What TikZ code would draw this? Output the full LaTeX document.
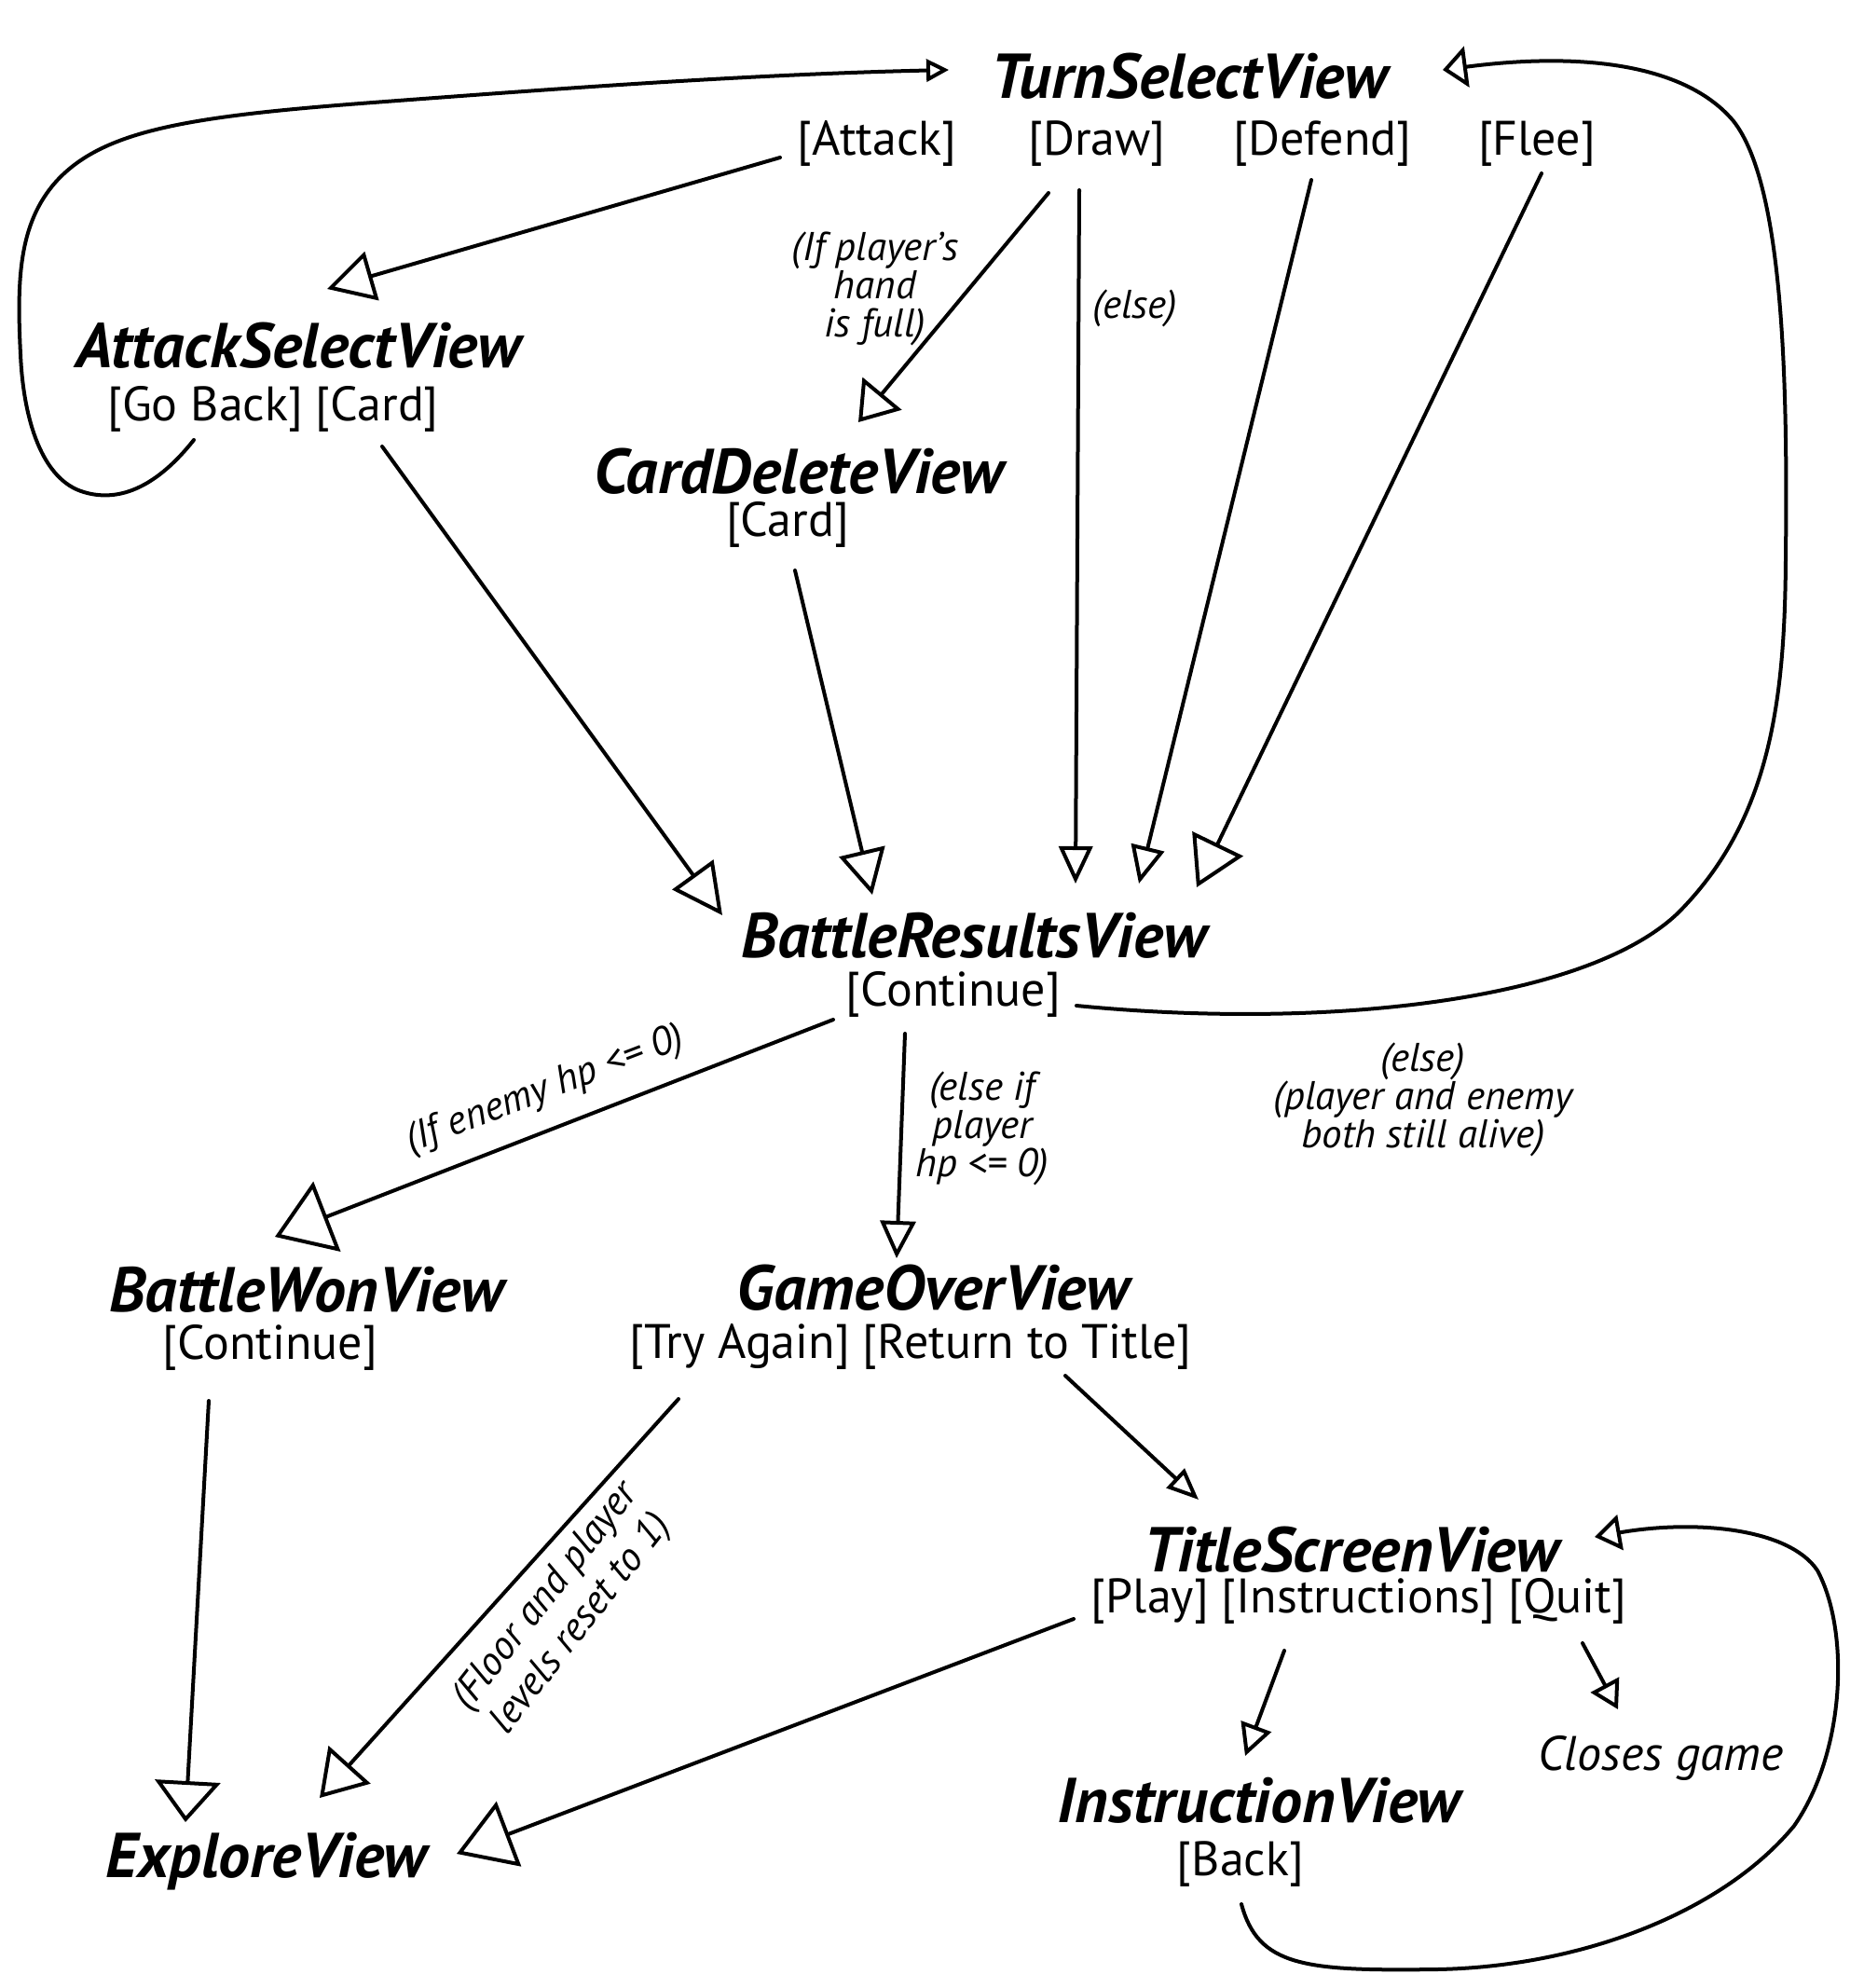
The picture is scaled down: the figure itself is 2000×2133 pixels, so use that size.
\documentclass[tikz,border=0pt]{standalone}
\usepackage{fontspec}
\setmainfont{PT Sans}
\usetikzlibrary{arrows.meta}
\begin{document}
\begin{tikzpicture}[x=0.5pt,y=-0.5pt, line width=2pt, line cap=round, line join=round,
 title/.style={font=\fontsize{34}{38}\selectfont\bfseries\itshape, inner sep=0pt},
 btn/.style={font=\fontsize{26}{30}\selectfont, inner sep=0pt},
 cond/.style={font=\fontsize{21.5}{20.5}\selectfont\itshape, inner sep=0pt, align=center},
 hd/.style 2 args={-{Triangle[open,length=#1pt,width=#2pt]}}]
\fill[white] (0,0) rectangle (2000,2133);
\useasboundingbox (0,0) rectangle (2000,2133);

% nodes
\node[title] (tsv) at (1276,82) {TurnSelectView};
\node[btn] (batk) at (941,154) {[Attack]};
\node[btn] (bdraw) at (1177,154) {[Draw]};
\node[btn] (bdef) at (1419,154) {[Defend]};
\node[btn] (bflee) at (1649,154) {[Flee]};
\node[title] (asv) at (320,371) {AttackSelectView};
\node[btn] (asvb) at (293,439) {[Go Back] [Card]};
\node[title] (cdv) at (857,506) {CardDeleteView};
\node[btn] (cdvb) at (845,563) {[Card]};
\node[cond] (cfull) at (939,310) {(If player's\\hand\\is full)};
\node[cond] (celse) at (1218,331) {(else)};
\node[title] (brv) at (1045,1004) {BattleResultsView};
\node[btn] (brvb) at (1023,1067) {[Continue]};
\node[cond, rotate=21] (cenemy) at (585,1170) {(If enemy hp <= 0)};
\node[cond] (cplayer) at (1054,1211) {(else if\\player\\hp <= 0)};
\node[cond] (calive) at (1527,1180) {(else)\\(player and enemy\\both still alive)};
\node[title] (bwv) at (329,1384) {BattleWonView};
\node[btn] (bwvb) at (290,1446) {[Continue]};
\node[title] (gov) at (1001,1382) {GameOverView};
\node[btn] (govb) at (977,1445) {[Try Again] [Return to Title]};
\node[title] (tsc) at (1450,1663) {TitleScreenView};
\node[btn] (tscb) at (1458,1718) {[Play] [Instructions] [Quit]};
\node[cond, rotate=52, font=\fontsize{21.5}{24}\selectfont\itshape] (cfloor) at (605,1728) {(Floor and player\\levels reset to 1)};
\node[btn, font=\fontsize{26}{30}\selectfont\itshape] (closes) at (1782,1886) {Closes game};
\node[title] (iv) at (1351,1932) {InstructionView};
\node[btn] (ivb) at (1331,2000) {[Back]};
\node[title] (ev) at (286,1997) {ExploreView};

% connector end points
\coordinate (s1) at (837,169);  \coordinate (e1) at (351,310);
\coordinate (s2) at (1125,207); \coordinate (e2) at (921,453);
\coordinate (s3) at (1158,204); \coordinate (e3) at (1154,948);
\coordinate (s4) at (1407,193); \coordinate (e4) at (1222,948);
\coordinate (s5) at (1654,186); \coordinate (e5) at (1284,952);
\coordinate (s6) at (410,479);  \coordinate (e6) at (775,982);
\coordinate (s7) at (853,612);  \coordinate (e7) at (936,960);
\coordinate (s8) at (208,472);  \coordinate (e8) at (1018,75);
\coordinate (s9) at (1155,1079); \coordinate (e9) at (1548,75);
\coordinate (s10) at (894,1094); \coordinate (e10) at (295,1327);
\coordinate (s11) at (971,1109); \coordinate (e11) at (962,1350);
\coordinate (s12) at (224,1503); \coordinate (e12) at (199,1955);
\coordinate (s13) at (728,1501); \coordinate (e13) at (343,1929);
\coordinate (s14) at (1143,1476); \coordinate (e14) at (1286,1609);
\coordinate (s15) at (1152,1737); \coordinate (e15) at (490,1989);
\coordinate (s16) at (1378,1771); \coordinate (e16) at (1336,1884);
\coordinate (s17) at (1698,1763); \coordinate (e17) at (1736,1834);
\coordinate (s18) at (1332,2043); \coordinate (e18) at (1711,1649);

% connectors
\draw[hd={25}{27}] (s1) -- (e1);
\draw[hd={20}{27}] (s2) -- (e2);
\draw[hd={20}{18}] (s3) -- (e3);
\draw[hd={20}{18}] (s4) -- (e4);
\draw[hd={26}{30}] (s5) -- (e5);
\draw[hd={27}{27}] (s6) -- (e6);
\draw[hd={24}{25}] (s7) -- (e7);
\draw[hd={12}{12}] (s8) .. controls (170,520) and (130,540) .. (90,528)
  .. controls (45,515) and (25,450) .. (22,380)
  .. controls (18,300) and (20,240) .. (60,195)
  .. controls (110,140) and (200,125) .. (400,110)
  .. controls (600,95) and (800,80) .. (e8);
\draw[hd={13}{22}] (s9) .. controls (1420,1105) and (1700,1075) .. (1800,980)
  .. controls (1900,880) and (1915,750) .. (1916,600)
  .. controls (1918,420) and (1915,200) .. (1860,130)
  .. controls (1810,70) and (1700,55) .. (e9);
\draw[hd={30}{40}] (s10) -- (e10);
\draw[hd={20}{19}] (s11) -- (e11);
\draw[hd={22}{35}] (s12) -- (e12);
\draw[hd={24}{30}] (s13) -- (e13);
\draw[hd={17}{14}] (s14) -- (e14);
\draw[hd={30}{37}] (s15) -- (e15);
\draw[hd={17}{17}] (s16) -- (e16);
\draw[hd={15}{17}] (s17) -- (e17);
\draw[hd={14}{19}] (s18) .. controls (1350,2110) and (1400,2115) .. (1542,2113)
  .. controls (1700,2110) and (1850,2050) .. (1925,1959)
  .. controls (1980,1880) and (1985,1750) .. (1950,1685)
  .. controls (1920,1640) and (1820,1630) .. (e18);
\end{tikzpicture}
\end{document}
